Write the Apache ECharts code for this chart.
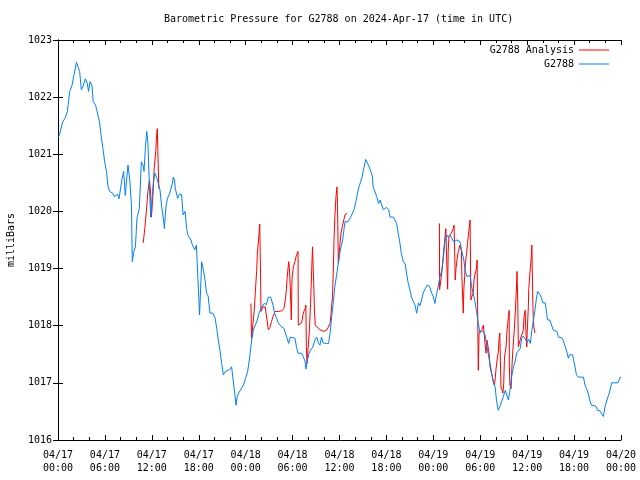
<!DOCTYPE html>
<html>
<head>
<meta charset="utf-8">
<script src="https://cdn.jsdelivr.net/npm/echarts@6/dist/echarts.min.js"></script>
<style>
html,body{margin:0;padding:0;background:#fff;}
#chart{width:640px;height:480px;}
</style>
</head>
<body>
<div id="chart"></div>
<script>
const titleText = 'Barometric Pressure for G2788 on 2024-Apr-17 (time in UTC)';
const yAxisName = 'milliBars';
const seriesNames = ['G2788 Analysis', 'G2788'];
const tickDates = ['04/17','04/17','04/17','04/17','04/18','04/18','04/18','04/18','04/19','04/19','04/19','04/19','04/20'];
const tickTimes = ['00:00','06:00','12:00','18:00','00:00','06:00','12:00','18:00','00:00','06:00','12:00','18:00','00:00'];

// hours since 2024-04-17 00:00 UTC
const blueHours = [0.0,0.2,0.6,0.9,1.2,1.5,1.8,2.05,2.35,2.56,2.77,2.98,3.2,3.5,3.75,3.9,4.1,4.35,4.5,4.8,5.0,5.3,5.5,5.75,5.97,6.2,6.4,6.6,6.8,7.0,7.2,7.4,7.6,7.8,8.0,8.2,8.4,8.6,8.85,8.95,9.2,9.4,9.5,9.7,9.9,10.1,10.4,10.66,10.9,11.0,11.17,11.34,11.5,11.7,11.85,12.2,12.4,12.6,12.83,13.05,13.26,13.5,13.6,13.8,14.0,14.25,14.5,14.62,14.75,14.9,15.0,15.3,15.5,15.8,16.0,16.25,16.45,16.6,16.8,17.0,17.2,17.5,17.7,17.8,18.0,18.1,18.2,18.37,18.6,18.8,19.0,19.2,19.44,19.8,20.1,20.3,20.5,20.7,20.93,21.15,21.4,21.6,21.9,22.2,22.4,22.6,22.77,22.9,23.1,23.35,23.7,24.0,24.25,24.47,24.77,25.0,25.2,25.5,25.7,25.9,26.1,26.35,26.65,26.9,27.2,27.5,27.7,27.9,28.2,28.6,28.9,29.25,29.5,29.7,29.9,30.3,30.5,30.7,31.15,31.37,31.6,31.7,31.9,32.1,32.3,32.6,32.85,33.1,33.3,33.5,33.7,33.9,34.3,34.6,34.8,35.0,35.2,35.4,35.6,35.85,36.1,36.4,36.7,37.1,37.35,37.6,37.86,38.1,38.3,38.5,38.7,38.9,39.1,39.35,39.6,39.8,40.0,40.2,40.3,40.55,40.76,41.0,41.2,41.4,41.6,41.8,42.0,42.3,42.46,42.9,43.1,43.3,43.5,43.7,43.9,44.16,44.4,44.6,44.8,45.0,45.2,45.4,45.66,45.87,46.1,46.3,46.5,46.7,46.9,47.2,47.5,47.8,48.0,48.2,48.4,48.64,48.85,49.1,49.3,49.5,49.7,49.9,50.1,50.35,50.6,50.8,51.0,51.2,51.4,51.6,51.9,52.05,52.3,52.5,52.7,52.9,53.1,53.3,53.5,53.75,53.97,54.2,54.4,54.6,54.8,55.0,55.25,55.5,55.7,55.9,56.1,56.3,56.5,56.7,56.95,57.2,57.4,57.6,57.8,58.0,58.25,58.5,58.66,58.9,59.1,59.3,59.5,59.7,60.0,60.2,60.4,60.6,60.8,61.0,61.2,61.35,61.6,61.8,62.0,62.3,62.5,62.6,62.9,63.1,63.35,63.55,63.8,64.0,64.4,64.6,64.8,65.0,65.27,65.4,65.6,65.8,66.0,66.12,66.3,66.55,67.2,67.4,67.6,67.8,68.0,68.2,68.4,68.8,69.0,69.3,69.5,69.75,69.95,70.2,70.4,70.6,70.8,71.6,71.9,72.0];
const bluePressure = [1021.3,1021.34,1021.57,1021.63,1021.75,1022.1,1022.21,1022.39,1022.61,1022.53,1022.45,1022.13,1022.19,1022.32,1022.24,1022.1,1022.27,1022.2,1021.92,1021.86,1021.75,1021.57,1021.34,1021.1,1020.87,1020.7,1020.43,1020.35,1020.38,1020.32,1020.26,1020.24,1020.3,1020.22,1020.23,1020.58,1020.7,1020.28,1020.28,1020.81,1020.52,1020.08,1019.12,1019.3,1019.38,1019.88,1020.05,1020.87,1020.8,1020.7,1021.1,1021.4,1021.2,1020.4,1019.9,1020.52,1020.67,1020.6,1020.49,1020.37,1020.08,1019.85,1019.7,1020.08,1020.23,1020.3,1020.3,1020.49,1020.6,1020.55,1020.4,1020.23,1020.3,1020.3,1019.94,1020.0,1019.7,1019.59,1019.59,1019.5,1019.41,1019.33,1019.41,1019.4,1018.5,1018.19,1018.5,1019.12,1018.97,1018.8,1018.57,1018.52,1018.22,1018.22,1018.13,1017.95,1017.75,1017.58,1017.34,1017.14,1017.2,1017.22,1017.23,1017.28,1017.05,1016.82,1016.61,1016.75,1016.82,1016.84,1016.96,1017.08,1017.2,1017.4,1017.75,1017.93,1018.0,1018.1,1018.22,1018.24,1018.33,1018.39,1018.37,1018.5,1018.5,1018.36,1018.22,1018.19,1018.04,1017.98,1017.95,1017.8,1017.69,1017.8,1017.78,1017.78,1017.63,1017.52,1017.52,1017.46,1017.37,1017.24,1017.4,1017.52,1017.57,1017.63,1017.75,1017.8,1017.7,1017.66,1017.8,1017.7,1017.69,1017.69,1017.87,1018.16,1018.39,1018.68,1018.86,1019.09,1019.32,1019.5,1019.82,1019.82,1019.88,1019.9,1020.03,1020.17,1020.32,1020.43,1020.52,1020.61,1020.75,1020.91,1020.9,1020.78,1020.7,1020.62,1020.43,1020.4,1020.26,1020.14,1020.2,1020.17,1020.03,1020.05,1020.07,1020.03,1019.9,1019.9,1019.88,1019.79,1019.62,1019.47,1019.27,1019.12,1019.08,1018.89,1018.74,1018.63,1018.5,1018.48,1018.36,1018.22,1018.4,1018.35,1018.45,1018.57,1018.63,1018.71,1018.69,1018.57,1018.5,1018.39,1018.55,1018.7,1018.86,1018.98,1019.2,1019.5,1019.59,1019.55,1019.59,1019.62,1019.47,1019.45,1019.5,1019.5,1019.47,1019.33,1019.15,1018.98,1018.86,1018.84,1018.88,1018.68,1018.66,1018.45,1018.27,1018.04,1017.87,1017.92,1017.9,1017.85,1017.69,1017.52,1017.34,1017.14,1017.02,1016.93,1016.67,1016.52,1016.58,1016.66,1016.76,1016.87,1016.85,1016.7,1016.87,1017.1,1017.28,1017.4,1017.52,1017.5,1017.6,1017.78,1017.82,1017.78,1017.71,1017.76,1017.69,1017.92,1018.1,1018.27,1018.5,1018.6,1018.55,1018.5,1018.4,1018.4,1018.22,1018.1,1018.1,1018.08,1017.92,1017.9,1017.9,1017.8,1017.79,1017.75,1017.66,1017.58,1017.43,1017.49,1017.46,1017.49,1017.5,1017.28,1017.14,1017.1,1017.1,1016.96,1016.9,1016.82,1016.7,1016.61,1016.6,1016.59,1016.52,1016.51,1016.49,1016.41,1016.58,1016.7,1016.78,1016.87,1017.0,1017.0,1017.1,1017.1];

// analysis series; null marks a gap between runs
const redHours = [10.9,11.1,11.3,11.5,11.7,11.85,11.95,12.15,12.3,12.5,12.6,12.7,12.8,12.9,13.0,
24.68,24.75,24.9,25.1,25.24,25.4,25.5,25.7,25.8,25.9,25.96,26.2,26.5,26.7,26.9,27.1,27.3,27.5,27.75,28.2,28.6,28.9,29.1,29.2,29.3,29.5,29.6,29.7,29.84,29.92,30.0,30.1,30.3,30.5,30.7,30.73,30.9,31.15,31.37,31.6,31.7,31.76,31.85,32.0,32.15,32.3,32.4,32.55,32.7,32.8,32.9,33.1,33.5,34.0,34.4,34.57,34.8,34.9,35.1,35.2,35.3,35.4,35.55,35.68,35.75,35.85,35.95,36.1,36.2,36.4,36.7,36.9,37.0,37.1,
48.78,48.8,49.0,49.1,49.3,49.54,49.6,49.7,49.83,49.9,50.0,50.2,50.4,50.55,50.65,50.75,50.8,50.9,51.07,51.2,51.4,51.6,51.65,51.75,51.83,51.9,52.0,52.1,52.25,52.37,52.55,52.7,52.8,52.9,53.1,53.2,53.3,53.5,53.6,53.75,53.85,53.97,54.2,54.4,54.6,54.65,54.75,54.85,55.0,55.15,55.25,55.5,55.6,55.8,55.9,56.0,56.2,56.3,56.4,56.5,56.6,56.65,56.8,56.9,57.0,57.1,57.3,57.4,57.6,57.7,57.72,57.8,57.95,58.05,58.2,58.35,58.5,58.6,58.7,58.8,58.87,59.1,59.3,59.5,59.6,59.75,59.8,59.95,60.0,60.15,60.2,60.35,60.5,60.6,60.7,60.77,60.85,61.0];
const redPressure = [1019.45,1019.7,1020.0,1020.35,1020.55,1020.3,1019.9,1020.3,1020.75,1021.05,1021.3,1021.45,1020.9,1020.4,null,
1018.39,1017.78,1017.8,1018.27,1018.6,1018.95,1019.27,1019.59,1019.78,1018.92,1018.25,1018.33,1018.33,1018.35,1017.93,1017.97,1018.07,1018.16,1018.25,1018.25,1018.26,1018.3,1018.48,1018.63,1018.83,1019.12,1019.0,1018.68,1018.1,1018.8,1018.92,1019.03,1019.12,1019.24,1019.3,1018.01,1018.0,1018.05,1018.22,1018.3,1018.36,1017.63,1017.34,1017.34,1017.92,1018.39,1018.8,1019.38,1018.74,1018.27,1018.01,1017.99,1017.93,1017.9,1017.93,1017.95,1018.04,1018.19,1018.5,1018.92,1019.5,1019.88,1020.26,1020.43,1020.1,1019.09,1019.12,1019.5,1019.62,1019.76,1019.94,1019.97,1019.97,null,
1019.79,1018.63,1018.63,1018.95,1019.27,1019.62,1019.7,1019.2,1018.64,1019.3,1019.56,1019.6,1019.65,1019.7,1019.76,1019.15,1018.8,1019.0,1019.2,1019.3,1019.41,1019.3,1018.86,1018.83,1018.22,1018.63,1018.86,1019.09,1019.27,1019.44,1019.67,1019.85,1018.45,1018.5,1018.57,1018.8,1018.89,1018.98,1019.15,1017.22,1017.87,1017.87,1017.93,1018.01,1018.04,1017.63,1017.52,1017.75,1017.63,1017.49,1017.28,1017.14,1017.05,1016.96,1017.05,1017.22,1017.45,1017.52,1017.75,1017.87,1017.87,1016.93,1016.87,1016.82,1016.99,1017.45,1017.63,1017.87,1018.16,1018.27,1017.28,1016.96,1016.9,1017.28,1017.63,1017.92,1018.27,1018.57,1018.95,1018.4,1017.63,1017.75,1017.75,1017.92,1018.16,1018.27,1018.0,1017.63,1017.87,1018.33,1018.63,1018.92,1019.15,1019.41,1018.6,1018.16,1017.98,1017.87];

const FONT = 'DejaVu Sans Mono';
const blueData = blueHours.map((h, i) => [h, bluePressure[i]]);
const redData = redHours.map((h, i) => [h, redPressure[i]]);

function xLabel(v) {
  const i = Math.round(v / 6);
  return tickDates[i] + '\n' + tickTimes[i];
}

const axisLineStyle = { show: true, lineStyle: { color: '#000', width: 1 } };
const baseX = {
  type: 'value', min: 0, max: 72, interval: 6,
  axisLine: axisLineStyle,
  axisTick: { show: true, inside: true, length: 5, lineStyle: { color: '#000' } },
  minorTick: { show: true, splitNumber: 3, length: 3, lineStyle: { color: '#000' } },
  splitLine: { show: false }
};
const baseY = {
  type: 'value', min: 1016, max: 1023, interval: 1,
  axisLine: axisLineStyle,
  axisTick: { show: true, inside: true, length: 5, lineStyle: { color: '#000' } },
  splitLine: { show: false }
};
const lineIcon = 'rect';

const chart = echarts.init(document.getElementById('chart'), null, { renderer: 'canvas' });
chart.setOption({
  animation: false,
  backgroundColor: '#fff',
  title: {
    text: titleText, left: 164, top: 14, padding: 0,
    textStyle: { fontFamily: FONT, fontSize: 10, fontWeight: 'normal', color: '#000' }
  },
  legend: [
    { data: [{ name: seriesNames[0], icon: lineIcon }], orient: 'vertical', align: 'right', right: 31, top: 45,
      itemWidth: 30, itemHeight: 1, itemGap: 0, padding: 0,
      textStyle: { fontFamily: FONT, fontSize: 10, color: '#000' } },
    { data: [{ name: seriesNames[1], icon: lineIcon }], orient: 'vertical', align: 'right', right: 31, top: 59,
      itemWidth: 30, itemHeight: 1, itemGap: 0, padding: 0,
      textStyle: { fontFamily: FONT, fontSize: 10, color: '#000' } }
  ],
  grid: { left: 58, right: 19, top: 40, bottom: 40, containLabel: false, outerBoundsMode: 'none' },
  xAxis: [
    Object.assign({}, baseX, { position: 'bottom',
      axisLabel: { formatter: xLabel, fontFamily: FONT, fontSize: 10, color: '#000', margin: 9, lineHeight: 13 } }),
    Object.assign({}, baseX, { position: 'top', axisLabel: { show: false } })
  ],
  yAxis: [
    Object.assign({}, baseY, { position: 'left', name: yAxisName, nameLocation: 'middle', nameGap: 42, nameRotate: 90,
      nameTextStyle: { fontFamily: FONT, fontSize: 10, color: '#000' },
      axisLabel: { formatter: v => String(v), fontFamily: FONT, fontSize: 10, color: '#000', margin: 6 } }),
    Object.assign({}, baseY, { position: 'right', axisLabel: { show: false } })
  ],
  series: [
    { name: seriesNames[0], type: 'line', data: redData, showSymbol: false, symbol: 'none',
      connectNulls: false, color: '#ff0000', lineStyle: { width: 1, color: '#ff0000' }, xAxisIndex: 0, yAxisIndex: 0 },
    { name: seriesNames[1], type: 'line', data: blueData, showSymbol: false, symbol: 'none',
      color: '#0080ff', lineStyle: { width: 1, color: '#0080ff' }, xAxisIndex: 0, yAxisIndex: 0 }
  ]
});
</script>
</body>
</html>
